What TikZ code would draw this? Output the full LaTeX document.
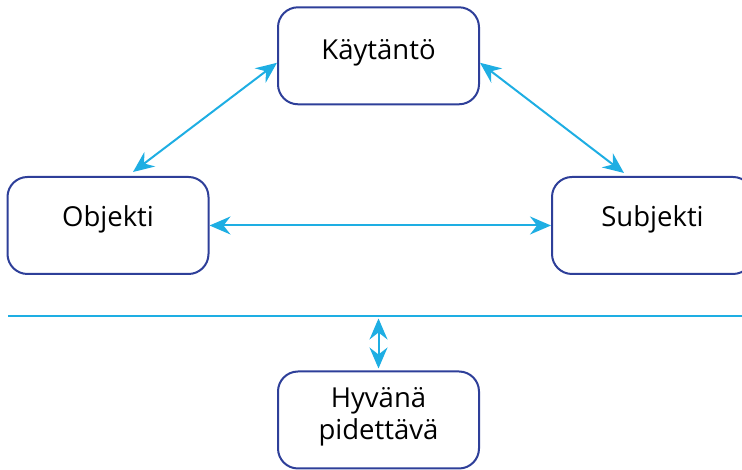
\documentclass[tikz,border=0pt]{standalone}
\usepackage{fontspec}
\setmainfont{Open Sans}
\usetikzlibrary{arrows.meta}
\definecolor{boxblue}{HTML}{2E3F99}
\definecolor{cyanline}{HTML}{1EAEE3}
\tikzset{
  box/.style={draw=boxblue, line width=2pt, rounded corners=20pt, minimum width=201pt, minimum height=97pt, inner sep=0pt, fill=white},
  lbl/.style={font=\fontsize{27.5}{32}\selectfont, anchor=base, inner sep=0pt, align=center},
  tip/.style={Stealth[length=21pt,width=18pt,inset=7pt]},
  conn/.style={draw=cyanline, line width=2pt, {Stealth[length=21pt,width=18pt,inset=7pt]}-{Stealth[length=21pt,width=18pt,inset=7pt]}},
  sep/.style={draw=cyanline, line width=2pt}
}
\begin{document}
\begin{tikzpicture}[x=1pt,y=1pt]
\useasboundingbox (0,0) rectangle (742,470);
\clip (0,0) rectangle (742,470);
\node[box] (k) at (378.5,414.2) {};
\node[box] (o) at (108,244.5) {};
\node[box] (s) at (652.5,244.5) {};
\node[box] (h) at (378.5,50) {};
\node[lbl] (kt) at ([yshift=-3.5pt]k.center) {Käytäntö};
\node[lbl] (ot) at ([yshift=-1.5pt]o.center) {Objekti};
\node[lbl] (st) at ([yshift=-1.5pt]s.center) {Subjekti};
\node[lbl, anchor=center] (ht) at ([yshift=3pt]h.center) {Hyvänä\\pidettävä};
\coordinate (la) at (8,154);
\coordinate (lb) at (742,154);
\coordinate (lp) at (378.5,151.5);
\draw[sep] (la) -- (lb);
\draw[conn] ([yshift=-7pt]k.west) -- ([xshift=25pt,yshift=4pt]o.north);
\draw[conn] ([yshift=-7pt]k.east) -- ([xshift=-28.5pt,yshift=3pt]s.north);
\draw[conn] (o.east) -- (s.west);
\draw[conn] (lp) -- ([yshift=2pt]h.north);
\end{tikzpicture}
\end{document}
